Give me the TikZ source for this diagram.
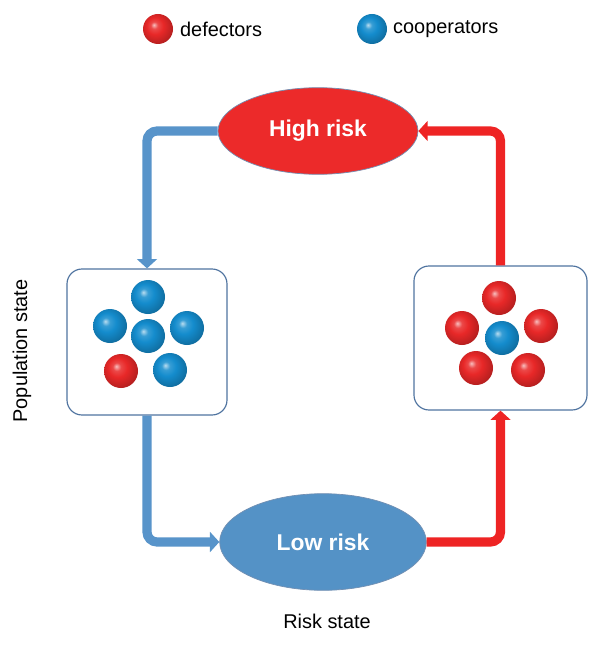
\documentclass[tikz,border=0pt]{standalone}
\usepackage{fontspec}
\setmainfont{Liberation Sans}
\usetikzlibrary{shapes.geometric,arrows.meta}
\definecolor{defred}{RGB}{232,40,40}
\definecolor{coopblue}{RGB}{20,140,205}
\definecolor{hirisk}{RGB}{236,42,42}
\definecolor{lorisk}{RGB}{84,146,198}
\definecolor{bluearrow}{RGB}{88,148,202}
\definecolor{redarrow}{RGB}{238,36,36}
\definecolor{boxline}{RGB}{80,116,160}
\makeatletter
\pgfdeclareradialshading[tikz@ball]{sphere}{\pgfqpoint{-7bp}{7bp}}{color(0bp)=(tikz@ball!30!white); color(6bp)=(tikz@ball!85!white); color(14bp)=(tikz@ball); color(27bp)=(tikz@ball!80!black); color(38bp)=(tikz@ball!55!black); color(50bp)=(tikz@ball!40!black)}
\makeatother
\begin{document}
\begin{tikzpicture}[x=0.03cm, y=-0.03cm, font=\fontsize{17}{20}\selectfont]
\useasboundingbox (0,0) rectangle (600,648);
\tikzstyle{defector} = [circle, ball color=defred, shading=sphere, minimum size=1.02cm, inner sep=0pt]
\tikzstyle{cooperator} = [circle, ball color=coopblue, shading=sphere, minimum size=1.02cm, inner sep=0pt]
\tikzstyle{risk} = [ellipse, draw=boxline!80, line width=.6pt, text=white, font=\bfseries\fontsize{19.5}{22}\selectfont]
\tikzstyle{popbox} = [rectangle, draw=boxline, line width=1pt, rounded corners=.45cm, fill=white]
\tikzstyle{flow} = [line width=7.8pt, rounded corners=.3cm, -{Triangle[width=17pt,length=8pt]}]
% legend
\node[defector, minimum size=.9cm] (ld) at (158,29) {};
\node[anchor=west] (ldt) at (176,29) {defectors};
\node[cooperator, minimum size=.9cm] (lc) at (372,29) {};
\node[anchor=west] (lct) at (389,29) {cooperators};
% risk states
\node[risk, fill=hirisk, minimum width=6cm, minimum height=2.6cm] (hr) at (318,131) {High risk};
\node[risk, fill=lorisk, minimum width=6.2cm, minimum height=2.9cm] (lr) at (323,542) {Low risk};
% population states
\node[popbox, minimum width=4.8cm, minimum height=4.38cm] (lb) at (147,342) {};
\node[popbox, minimum width=5.19cm, minimum height=4.32cm] (rb) at (500.5,338) {};
% connectors
\draw[flow, draw=bluearrow] (hr.west) -| (lb.north);
\draw[flow, draw=bluearrow] (lb.south) |- (lr.west);
\draw[flow, draw=redarrow] (lr.east) -| (rb.south);
\draw[flow, draw=redarrow] (rb.north) |- (hr.east);
% mostly cooperators
\node[cooperator] (c1) at (148,297) {};
\node[cooperator] (c2) at (110,326) {};
\node[cooperator] (c3) at (148,336) {};
\node[cooperator] (c4) at (187,328) {};
\node[defector] (d1) at (121,371) {};
\node[cooperator] (c5) at (170,370) {};
% mostly defectors
\node[defector] (d2) at (499,298) {};
\node[defector] (d3) at (462,328) {};
\node[cooperator] (c6) at (502,338) {};
\node[defector] (d4) at (541,326) {};
\node[defector] (d5) at (476,368) {};
\node[defector] (d6) at (528,370) {};
% axis labels
\node[rotate=90] (ps) at (22,351) {Population state};
\node (rs) at (327,621) {Risk state};
\end{tikzpicture}
\end{document}
